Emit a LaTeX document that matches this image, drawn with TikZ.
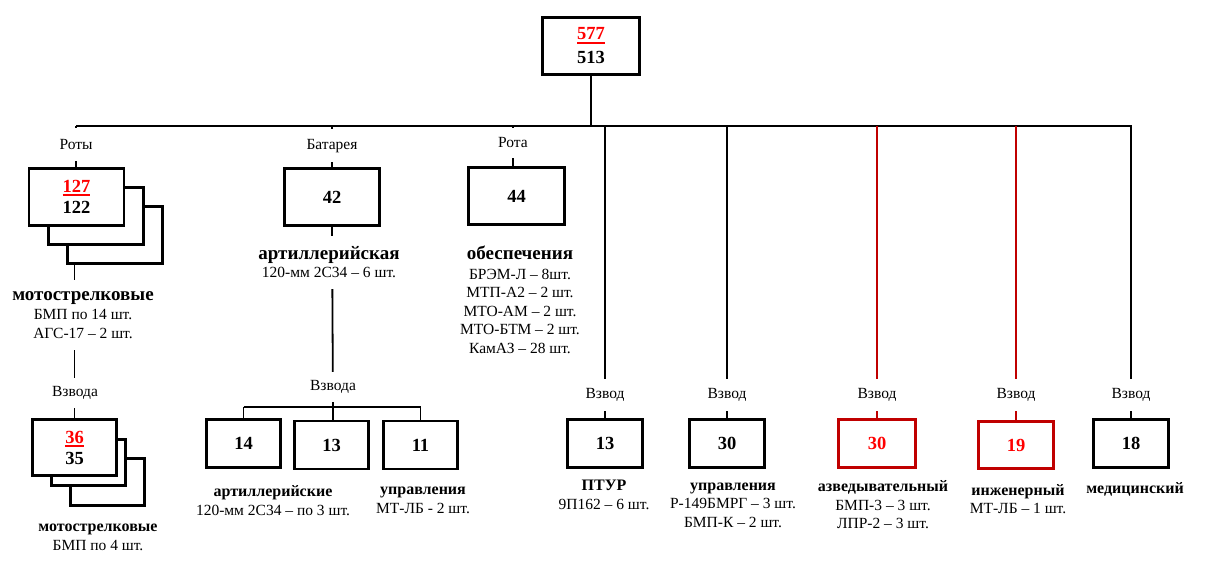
\documentclass[tikz,border=0pt]{standalone}
\usepackage{fontspec}
\setmainfont{Liberation Serif}
\usetikzlibrary{backgrounds}
\definecolor{dred}{HTML}{C00000}
\definecolor{bred}{HTML}{FF0000}
\newcommand{\ulred}[1]{\vtop{\hbox{#1}\kern1.6pt\hrule height 2pt}}
\tikzset{
  box/.style={draw, line width=2.8pt, fill=white, inner sep=0pt, align=center,
    font=\bfseries\fontsize{18.5}{21}\selectfont},
  rbox/.style={box, draw=dred, text=bred},
  conn/.style={line width=1.8pt},
  rconn/.style={conn, draw=dred},
  lbl/.style={fill=white, inner sep=0pt, minimum width=10pt, font=\fontsize{15.5}{18}\selectfont},
  txt/.style={align=center, inner sep=0pt, font=\fontsize{15.5}{18.5}\selectfont},
  ftxt/.style={txt, fill=white},
}
\newcommand{\hdb}[1]{{\bfseries\fontsize{19}{21}\selectfont #1}}
\newcommand{\hds}[1]{{\bfseries\fontsize{16}{18}\selectfont #1}}
\begin{document}
\begin{tikzpicture}[x=1pt,y=-1pt]
\useasboundingbox (0,0) rectangle (1214,580);
% top
\node[box, minimum width=97pt, minimum height=57pt] (top) at (591,46)
  {\textcolor{bred}{\ulred{577}}\\[3pt]513};
\coordinate (busL) at (76,126);
\coordinate (busR) at (1132,126);
% Roty stack
\node[box, minimum width=95pt, minimum height=57pt] (r3) at (115,235) {};
\node[box, minimum width=95pt, minimum height=57pt] (r2) at (96,216) {};
\node[box, minimum width=95pt, minimum height=57pt] (r1) at (76.5,197)
  {\textcolor{bred}{\ulred{127}}\\[0pt]122};
\node[lbl, minimum height=33pt] (lRoty) at (76,144.5) {Роты};
\node[ftxt, minimum height=70pt] (tMoto) at (83,315)
  {\hdb{мотострелковые}\\[1pt]БМП по 14 шт.\\АГС-17 – 2 шт.};
\node[lbl, minimum height=30pt] (lVz1) at (75,393) {Взвода};
% Vzvoda stack
\node[box, minimum width=74pt, minimum height=47pt] (v3) at (107.5,482) {};
\node[box, minimum width=74pt, minimum height=46pt] (v2) at (88.5,462.5) {};
\node[box, minimum width=84pt, minimum height=56pt] (v1) at (74.5,447.5)
  {\textcolor{bred}{\ulred{36}}\\[0pt]35};
\node[txt] (tMoto2) at (98,537.5) {\hds{мотострелковые}\\БМП по 4 шт.};
% Battery
\node[box, minimum width=95pt, minimum height=57pt] (bat) at (332,197) {42};
\node[lbl, minimum height=33pt] (lBat) at (332,146) {Батарея};
\node[ftxt, minimum height=53pt] (tBat) at (329,262)
  {\hdb{артиллерийская}\\120-мм 2С34 – 6 шт.};
\node[lbl, minimum height=30pt] (lVz2) at (333,387) {Взвода};
\coordinate (brk) at (333,407);
\node[box, minimum width=74pt, minimum height=48pt] (a14) at (243.5,443.5) {14};
\node[box, minimum width=74pt, minimum height=48pt] (a13) at (331.5,445) {13};
\node[box, minimum width=74pt, minimum height=48pt] (a11) at (420.5,445) {11};
\node[txt] (t14) at (273,500.5) {\hds{артиллерийские}\\120-мм 2С34 – по 3 шт.};
\node[txt] (t11) at (423,500.5) {\hds{управления}\\МТ-ЛБ - 2 шт.};
% Rota
\node[box, minimum width=96pt, minimum height=57pt] (rota) at (516.5,196) {44};
\node[lbl, minimum height=30pt] (lRota) at (513,143) {Рота};
\node[txt] (tRota) at (520,300)
  {\hdb{обеспечения}\\[1pt]БРЭМ-Л – 8шт.\\МТП-А2 – 2 шт.\\МТО-АМ – 2 шт.\\МТО-БТМ  – 2 шт.\\КамАЗ – 28 шт.};
% right platoons
\node[box, minimum width=75pt, minimum height=48pt] (p1) at (605,443.5) {13};
\node[box, minimum width=75pt, minimum height=48pt] (p2) at (727,443.5) {30};
\node[rbox, minimum width=77pt, minimum height=48pt] (p3) at (877,443.5) {30};
\node[rbox, minimum width=75pt, minimum height=47pt] (p4) at (1016,445) {19};
\node[box, minimum width=75pt, minimum height=48pt] (p5) at (1131,443.5) {18};
\foreach \n in {p1,p2,p3,p4,p5}{
  \node[lbl, minimum height=32pt] (l\n) at (\n.north |- 0,395) {Взвод};
}
\node[txt] (tp1) at (604,495) {\hds{ПТУР}\\9П162 – 6 шт.};
\node[txt] (tp2) at (733,505) {\hds{управления}\\Р-149БМРГ – 3 шт.\\БМП-К – 2 шт.};
\node[txt] (tp3) at (883,505) {\hds{азведывательный}\\БМП-3 – 3 шт.\\ЛПР-2 – 3 шт.};
\node[txt] (tp4) at (1018,499) {\hds{инженерный}\\МТ-ЛБ – 1 шт.};
\node[txt] (tp5) at (1135,489) {\hds{медицинский}};
% connectors
\begin{pgfonlayer}{background}
\fill[white] (0,0) rectangle (1214,580);
\draw[conn] (busL) -- (busR);
\draw[conn] (top.south) -- (top.south |- busL);
\draw[conn] (lRoty.north |- busL) -- (lRoty.north |- r1.north);
\draw[conn] (v1.north |- r3.south) -- (v1.north);
\draw[conn] (lBat.north |- busL) -- (bat.north);
\draw[conn] (bat.south) -- (brk);
\draw[conn] (a14.north |- brk) -- (a11.north |- brk);
\draw[conn] (a14.north |- brk) -- (a14.north);
\draw[conn] (brk) -- (brk |- a13.north);
\draw[conn] (a11.north |- brk) -- (a11.north);
\draw[conn] (lRota.north |- busL) -- (lRota.north |- rota.north);
\draw[conn] (p1.north |- busL) -- (p1.north);
\draw[conn] (p2.north |- busL) -- (p2.north);
\draw[rconn] (p3.north |- busL) -- (p3.north);
\draw[rconn] (p4.north |- busL) -- (p4.north);
\draw[conn] (p5.north |- busL) -- (p5.north);
\end{pgfonlayer}
\end{tikzpicture}
\end{document}
